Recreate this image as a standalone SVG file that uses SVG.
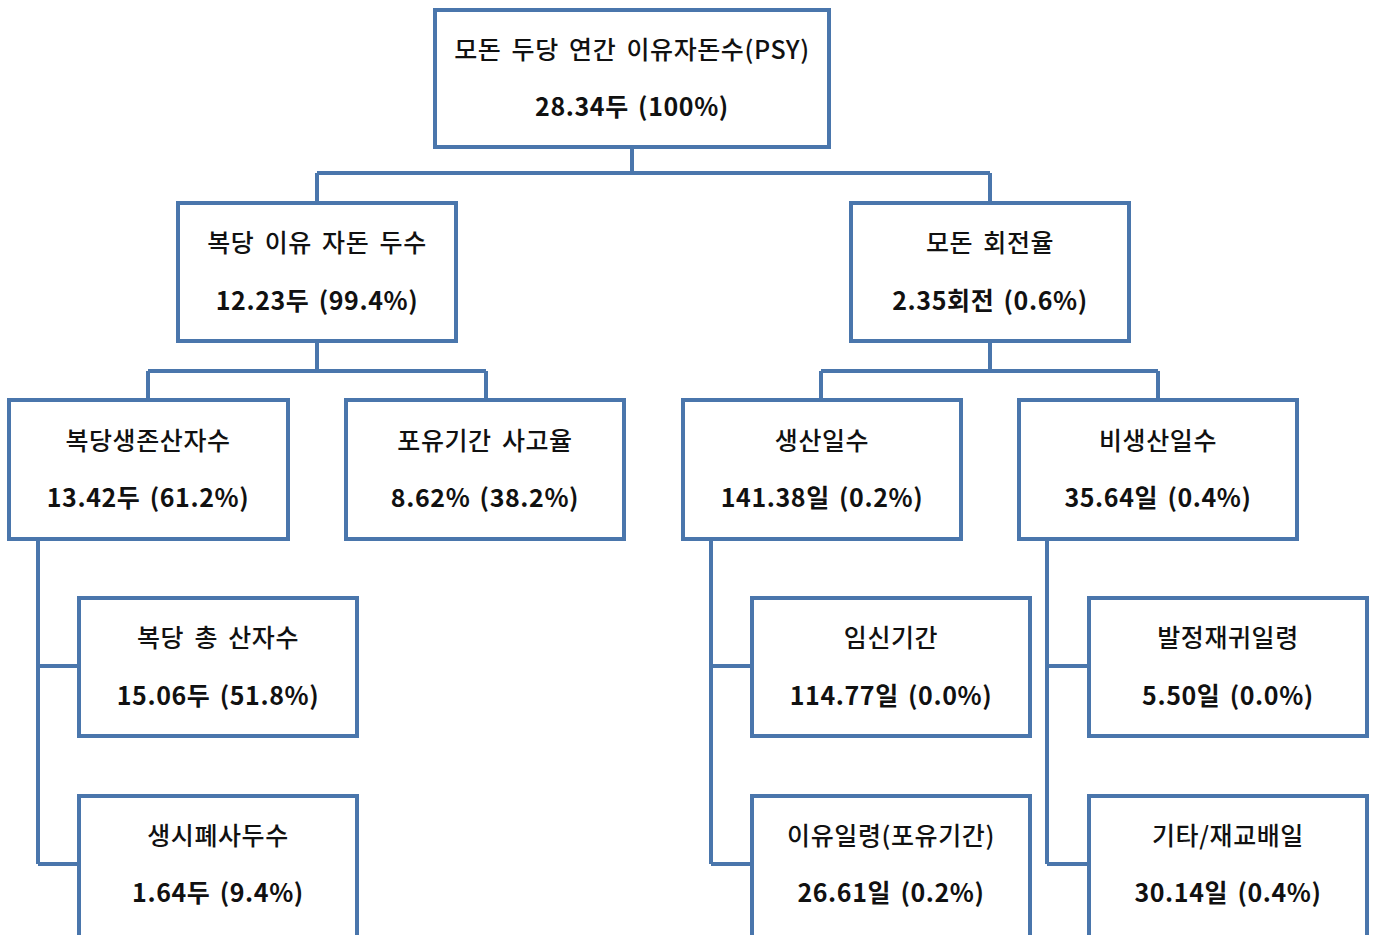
<svg xmlns="http://www.w3.org/2000/svg" width="1375" height="935" viewBox="0 0 1375 935">
<style>
.box{fill:#fff;stroke:#4a76ac;stroke-width:4}
.con{fill:none;stroke:#4a76ac;stroke-width:4}
text{font-family:"Noto Sans CJK KR","Noto Sans",sans-serif;font-size:25px;fill:#111;text-anchor:middle;letter-spacing:0.6px;word-spacing:4px;font-weight:500}
.v{font-weight:bold;word-spacing:3px}
</style>
<rect width="1375" height="935" fill="#fff"/>
<g id="connectors" class="con">
<path d="M632 149V173M317 173H990M317 173V201M990 173V201"/>
<path d="M317 343V371M148 371H486M148 371V398M486 371V398"/>
<path d="M990 343V371M821 371H1158M821 371V398M1158 371V398"/>
<path d="M38 541V864M38 666H77M38 864H77"/>
<path d="M711 541V864M711 666H750M711 864H750"/>
<path d="M1047 541V864M1047 666H1087M1047 864H1087"/>
</g>
<g id="n0"><rect class="box" x="435" y="10" width="394" height="137"/><text x="632" y="59">모돈 두당 연간 이유자돈수(PSY)</text><text class="v" x="632" y="116">28.34두 (100%)</text></g>
<g id="n1"><rect class="box" x="178" y="203" width="278" height="138"/><text x="317" y="252">복당 이유 자돈 두수</text><text class="v" x="317" y="310">12.23두 (99.4%)</text></g>
<g id="n2"><rect class="box" x="851" y="203" width="278" height="138"/><text x="990" y="252">모돈 회전율</text><text class="v" x="990" y="310">2.35회전 (0.6%)</text></g>
<g id="n3"><rect class="box" x="9" y="400" width="279" height="139"/><text x="148" y="450">복당생존산자수</text><text class="v" x="148" y="507">13.42두 (61.2%)</text></g>
<g id="n4"><rect class="box" x="346" y="400" width="278" height="139"/><text x="485" y="450">포유기간 사고율</text><text class="v" x="485" y="507">8.62% (38.2%)</text></g>
<g id="n5"><rect class="box" x="683" y="400" width="278" height="139"/><text x="822" y="450">생산일수</text><text class="v" x="822" y="507">141.38일 (0.2%)</text></g>
<g id="n6"><rect class="box" x="1019" y="400" width="278" height="139"/><text x="1158" y="450">비생산일수</text><text class="v" x="1158" y="507">35.64일 (0.4%)</text></g>
<g id="n7"><rect class="box" x="79" y="598" width="278" height="138"/><text x="218" y="647">복당 총 산자수</text><text class="v" x="218" y="705">15.06두 (51.8%)</text></g>
<g id="n8"><rect class="box" x="79" y="796" width="278" height="142"/><text x="218" y="845">생시폐사두수</text><text class="v" x="218" y="902">1.64두 (9.4%)</text></g>
<g id="n9"><rect class="box" x="752" y="598" width="278" height="138"/><text x="891" y="647">임신기간</text><text class="v" x="891" y="705">114.77일 (0.0%)</text></g>
<g id="n10"><rect class="box" x="752" y="796" width="278" height="142"/><text x="891" y="845">이유일령(포유기간)</text><text class="v" x="891" y="902">26.61일 (0.2%)</text></g>
<g id="n11"><rect class="box" x="1089" y="598" width="278" height="138"/><text x="1228" y="647">발정재귀일령</text><text class="v" x="1228" y="705">5.50일 (0.0%)</text></g>
<g id="n12"><rect class="box" x="1089" y="796" width="278" height="142"/><text x="1228" y="845">기타/재교배일</text><text class="v" x="1228" y="902">30.14일 (0.4%)</text></g>
</svg>
